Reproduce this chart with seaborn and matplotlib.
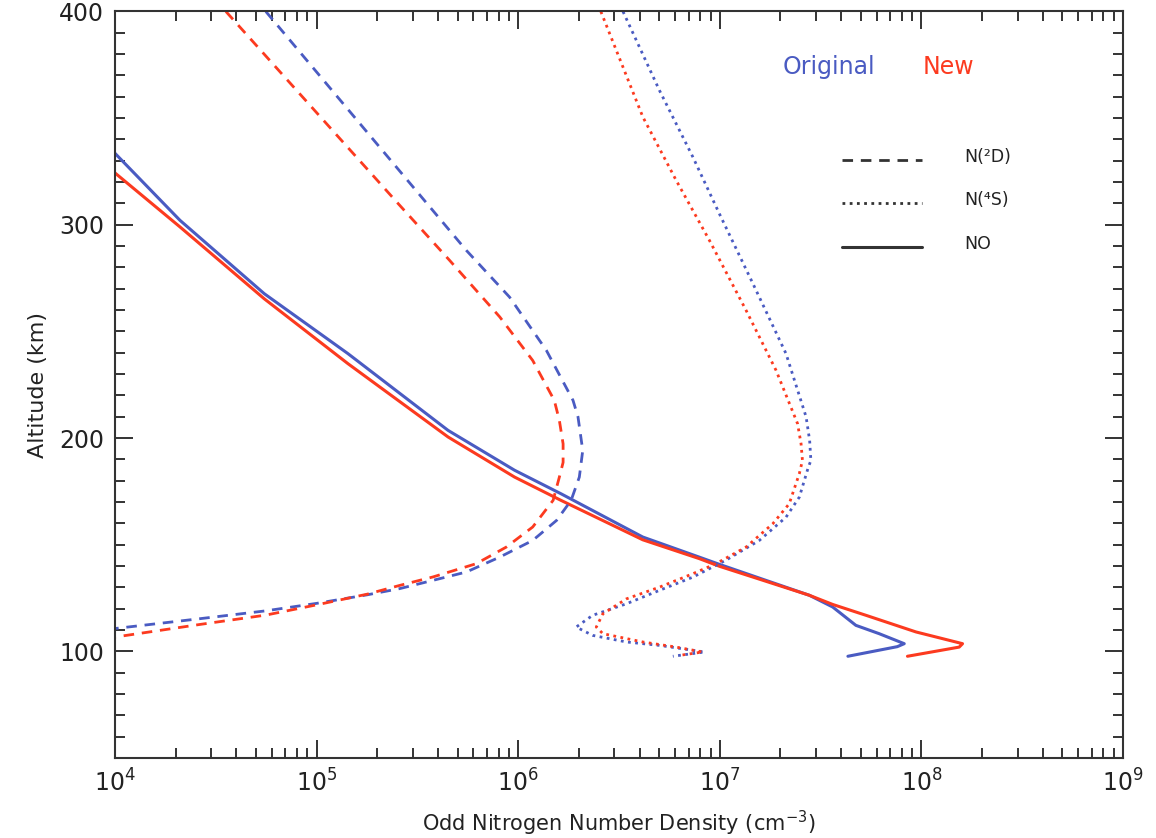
import matplotlib
matplotlib.use("Agg")
import matplotlib.pyplot as plt
import matplotlib.ticker as mticker
import seaborn as sns
import pandas as pd
import numpy as np

# ---------------- data (altitude km, density cm^-3) ----------------
no_orig_alt = [333.5, 302.1, 267.7, 239.6, 203.6, 184.9, 173.9, 153.6, 144.2, 140.8,
               126.3, 120.8, 112.2, 108.3, 103.6, 102.2, 97.7]
no_orig_den = [1.0e4, 2.1e4, 5.5e4, 1.43e5, 4.49e5, 9.6e5, 1.63e6, 4.15e6, 7.9e6, 9.95e6,
               2.78e7, 3.63e7, 4.73e7, 6.17e7, 8.22e7, 7.59e7, 4.32e7]

no_new_alt = [324.3, 299.0, 265.3, 234.9, 200.5, 181.7, 170.8, 152.3, 143.5, 139.9,
              126.3, 122.0, 116.9, 109.1, 103.6, 102.0, 97.7]
no_new_den = [1.0e4, 2.1e4, 5.5e4, 1.43e5, 4.49e5, 9.6e5, 1.63e6, 4.15e6, 7.9e6, 9.95e6,
              2.78e7, 3.63e7, 5.31e7, 9.4e7, 1.6e8, 1.54e8, 8.53e7]

n2d_orig_alt = [400.0, 327.0, 288.0, 266.1, 241.1, 217.7, 209.9, 194.2, 181.7, 170.8,
                161.4, 152.0, 144.2, 137.2, 133.3, 129.4, 126.5, 122.5, 119.0, 115.3, 110.7]
n2d_orig_den = [5.6e4, 2.49e5, 5.53e5, 9.06e5, 1.38e6, 1.87e6, 1.98e6, 2.09e6, 2.01e6, 1.83e6,
                1.55e6, 1.18e6, 8.1e5, 5.53e5, 3.78e5, 2.58e5, 1.78e5, 1.0e5, 5.6e4, 2.63e4, 1.0e4]

n2d_new_alt = [400.0, 309.9, 283.3, 256.8, 236.4, 217.7, 208.3, 197.3, 188.6, 181.7,
               170.8, 158.3, 148.9, 141.1, 134.9, 130.9, 126.8, 121.8, 117.0, 112.6, 106.7]
n2d_new_den = [3.55e4, 2.54e5, 4.57e5, 8.1e5, 1.18e6, 1.51e6, 1.6e6, 1.67e6, 1.67e6, 1.6e6,
               1.49e6, 1.18e6, 8.73e5, 6.19e5, 3.78e5, 2.58e5, 1.78e5, 1.0e5, 5.6e4, 2.63e4, 1.0e4]

n4s_orig_alt = [400.0, 363.0, 331.8, 305.2, 272.4, 239.6, 209.9, 198.9, 189.5, 186.4,
                172.3, 162.9, 152.0, 142.7, 134.8, 128.6, 122.3, 116.9, 111.4, 107.5,
                104.4, 102.8, 100.5, 99.7, 97.7]
n4s_orig_den = [3.31e6, 5.02e6, 7.35e6, 9.95e6, 1.46e7, 2.13e7, 2.68e7, 2.79e7, 2.83e7, 2.75e7,
                2.48e7, 2.13e7, 1.57e7, 1.07e7, 7.35e6, 5.02e6, 3.44e6, 2.34e6, 1.94e6, 2.34e6,
                3.44e6, 5.02e6, 7.35e6, 8.4e6, 5.85e6]

n4s_new_alt = [400.0, 350.6, 320.9, 292.8, 259.9, 231.8, 206.8, 197.3, 189.5, 183.3,
               169.2, 159.8, 148.9, 141.1, 136.4, 130.1, 124.6, 117.6, 111.4, 108.3,
               104.4, 102.0, 99.7, 98.1]
n4s_new_den = [2.57e6, 4.15e6, 6.07e6, 8.87e6, 1.35e7, 1.9e7, 2.43e7, 2.53e7, 2.57e7, 2.48e7,
               2.21e7, 1.83e7, 1.35e7, 9.57e6, 7.35e6, 5.02e6, 3.44e6, 2.63e6, 2.44e6, 2.63e6,
               4.15e6, 6.07e6, 8.22e6, 6.31e6]

species_labels = ["N(²D)", "N(⁴S)", "NO"]
version_labels = ["Original", "New"]

# ---------------- build frame ----------------
series = [
    ("NO", "Original", no_orig_alt, no_orig_den),
    ("NO", "New", no_new_alt, no_new_den),
    ("N2D", "Original", n2d_orig_alt, n2d_orig_den),
    ("N2D", "New", n2d_new_alt, n2d_new_den),
    ("N4S", "Original", n4s_orig_alt, n4s_orig_den),
    ("N4S", "New", n4s_new_alt, n4s_new_den),
]
frames = []
for sp, ver, alt, den in series:
    frames.append(pd.DataFrame({"species": sp, "version": ver,
                                "altitude": alt, "density": den}))
df = pd.concat(frames, ignore_index=True)

sns.set_theme(style="ticks")
plt.rcParams["font.family"] = ["DejaVu Sans"]

BLUE = "#4a5bc2"
RED = "#fc3a1f"
colors = {"Original": BLUE, "New": RED}
styles = {"NO": dict(linestyle="-", lw=2.2),
          "N2D": dict(linestyle=(0, (3.8, 2.8)), lw=2.0),
          "N4S": dict(linestyle=(0, (1.0, 1.6)), lw=2.0)}

fig = plt.figure(figsize=(11.56, 8.38), dpi=100)
ax = fig.add_axes([115/1156, 1-758/838, 1008/1156, 746.5/838])

for sp, ver, _, _ in series:
    sub = df[(df.species == sp) & (df.version == ver)]
    sns.lineplot(data=sub, x="density", y="altitude", sort=False, estimator=None,
                 color=colors[ver], ax=ax, legend=False, **styles[sp])

ax.set_xscale("log")
ax.set_xlim(1e4, 1e9)
ax.set_ylim(50, 400)
ax.xaxis.set_major_locator(mticker.LogLocator(base=10, numticks=10))
ax.xaxis.set_minor_locator(mticker.LogLocator(base=10, subs=np.arange(2, 10), numticks=20))
ax.xaxis.set_minor_formatter(mticker.NullFormatter())
ax.yaxis.set_major_locator(mticker.FixedLocator([100, 200, 300, 400]))
ax.yaxis.set_minor_locator(mticker.MultipleLocator(10))

for side in ["top", "right", "bottom", "left"]:
    ax.spines[side].set_visible(True)
    ax.spines[side].set_linewidth(1.5)
    ax.spines[side].set_color("#333333")
ax.tick_params(which="both", direction="in", top=True, right=True, color="#333333", width=1.4)
ax.tick_params(which="major", length=13)
ax.tick_params(which="minor", length=7)
ax.tick_params(axis="both", which="major", labelsize=17, pad=8, labelcolor="#222222")

ax.set_xlabel("Odd Nitrogen Number Density (cm$^{-3}$)", fontsize=15, color="#222222", labelpad=9)
ax.set_ylabel("Altitude (km)", fontsize=16, color="#222222", labelpad=8)

# legend-like annotations
ax.text(0.662, 0.926, version_labels[0], transform=ax.transAxes, color=BLUE,
        fontsize=17, va="center", ha="left")
ax.text(0.8016, 0.926, version_labels[1], transform=ax.transAxes, color=RED,
        fontsize=17, va="center", ha="left")

leg_y = [0.801, 0.743, 0.685]
leg_styles = [styles["N2D"], styles["N4S"], styles["NO"]]
for yy, st, lab in zip(leg_y, leg_styles, species_labels):
    ax.plot([0.721, 0.8006], [yy, yy], transform=ax.transAxes, color="#333333", **st)
    ax.text(0.843, yy + 0.004, lab, transform=ax.transAxes, fontsize=12.5,
            va="center", ha="left", color="#222222")

fig.savefig("out.png", dpi=100, facecolor="white")
